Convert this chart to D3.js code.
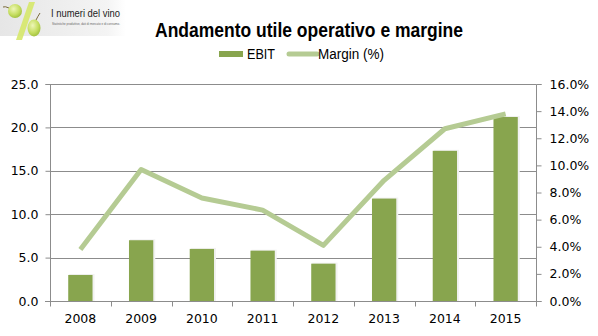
<!DOCTYPE html>
<html>
<head>
<meta charset="utf-8">
<script src="https://cdn.jsdelivr.net/npm/d3@7"></script>
<style>
  body { margin: 0; background: #fff; }
  svg { display: block; }
</style>
</head>
<body>
<div id="chart"></div>
<script>
// EBIT (milioni) and operating margin (%) by year
var years = ["2008", "2009", "2010", "2011", "2012", "2013", "2014", "2015"];
var ebit = [3.0, 7.0, 6.0, 5.8, 4.3, 11.8, 17.3, 21.2];
var margin = [3.8, 9.7, 7.6, 6.7, 4.1, 8.9, 12.7, 13.8];
var leftTicks = [0, 5, 10, 15, 20, 25];
var rightTicks = [0, 2, 4, 6, 8, 10, 12, 14, 16];

(function() {

var w = 598, h = 336;
var plotL = 50, plotR = 536, plotT = 84, plotB = 301;

var barColor = "#88a54e";
var lineColor = "#b5cb93";
var axisFont = "DejaVu Sans, Verdana, sans-serif";
var narrowFont = "Liberation Sans Narrow, Arial Narrow, Liberation Sans, Arial, sans-serif";

var svg = d3.select("#chart")
    .append("svg")
    .attr("width", w)
    .attr("height", h);

var defs = svg.append("defs");
var logoGrad = defs.append("linearGradient")
    .attr("id", "logoBg")
    .attr("x1", 0).attr("x2", 1).attr("y1", 0).attr("y2", 0);
logoGrad.append("stop").attr("offset", "0").attr("stop-color", "#e6e6e6");
logoGrad.append("stop").attr("offset", "0.85").attr("stop-color", "#f4f4f4");
logoGrad.append("stop").attr("offset", "1").attr("stop-color", "#ffffff");

var grapeGrad = defs.append("radialGradient")
    .attr("id", "grape")
    .attr("cx", "0.4").attr("cy", "0.35").attr("r", "0.7");
grapeGrad.append("stop").attr("offset", "0").attr("stop-color", "#eef6b8");
grapeGrad.append("stop").attr("offset", "0.6").attr("stop-color", "#c6de62");
grapeGrad.append("stop").attr("offset", "1").attr("stop-color", "#9dbd3a");

// logo block, top left
var logo = svg.append("g");
logo.append("rect")
    .attr("x", 0).attr("y", 0)
    .attr("width", 126).attr("height", 36)
    .attr("fill", "url(#logoBg)");
logo.append("path")
    .attr("d", "M29,2 L35,2 L22,40 L16,40 Z")
    .attr("fill", "#d6e86a")
    .attr("opacity", 0.9);
logo.append("path")
    .attr("d", "M9,8 Q5,6 3,7")
    .attr("stroke", "#7a6a3a").attr("stroke-width", 1).attr("fill", "none");
logo.append("ellipse")
    .attr("cx", 15).attr("cy", 11).attr("rx", 7).attr("ry", 7)
    .attr("fill", "url(#grape)");
logo.append("path")
    .attr("d", "M36,20 Q38,16 40,13")
    .attr("stroke", "#7a6a3a").attr("stroke-width", 1).attr("fill", "none");
logo.append("ellipse")
    .attr("cx", 34).attr("cy", 28).attr("rx", 6.5).attr("ry", 8.5)
    .attr("fill", "url(#grape)");
logo.append("text")
    .attr("x", 51).attr("y", 17)
    .attr("font-family", narrowFont)
    .attr("font-size", "11.5px")
    .attr("textLength", 69)
    .attr("lengthAdjust", "spacingAndGlyphs")
    .attr("fill", "#222")
    .text("I numeri del vino");
logo.append("text")
    .attr("x", 52).attr("y", 25)
    .attr("font-family", narrowFont)
    .attr("font-size", "3.2px")
    .attr("textLength", 68)
    .attr("lengthAdjust", "spacingAndGlyphs")
    .attr("fill", "#666")
    .text("Statistiche produttive, dati di mercato e di consumo.");

// title
svg.append("text")
    .attr("x", 155).attr("y", 37)
    .attr("font-family", narrowFont)
    .attr("font-weight", "bold")
    .attr("font-size", "20px")
    .attr("textLength", 308)
    .attr("lengthAdjust", "spacingAndGlyphs")
    .attr("fill", "#000")
    .text("Andamento utile operativo e margine");

// legend
var legend = svg.append("g")
    .attr("font-family", narrowFont)
    .attr("font-size", "14px")
    .attr("fill", "#000");
legend.append("rect")
    .attr("x", 219).attr("y", 51)
    .attr("width", 24).attr("height", 6)
    .attr("fill", barColor);
legend.append("text")
    .attr("x", 247).attr("y", 59)
    .attr("textLength", 28)
    .attr("lengthAdjust", "spacingAndGlyphs")
    .text("EBIT");
legend.append("line")
    .attr("x1", 289).attr("x2", 317)
    .attr("y1", 54).attr("y2", 54)
    .attr("stroke", lineColor)
    .attr("stroke-width", 5)
    .attr("stroke-linecap", "round");
legend.append("text")
    .attr("x", 318).attr("y", 59)
    .attr("textLength", 66)
    .attr("lengthAdjust", "spacingAndGlyphs")
    .text("Margin (%)");

// scales
var x = d3.scaleBand()
    .domain(years)
    .range([plotL, plotR])
    .paddingInner(0.6)
    .paddingOuter(0.3);
var xStep = d3.scaleBand()
    .domain(years)
    .range([plotL, plotR]);

var yLeft = d3.scaleLinear()
    .domain([0, 25])
    .range([plotB, plotT]);
var yRight = d3.scaleLinear()
    .domain([0, 16])
    .range([plotB, plotT]);

// horizontal gridlines
svg.append("g")
    .selectAll("line")
    .data(leftTicks.filter(function(d) { return d > 0; }))
    .enter()
    .append("line")
    .attr("x1", plotL)
    .attr("x2", plotR)
    .attr("y1", function(d) { return Math.round(yLeft(d)) + 0.5; })
    .attr("y2", function(d) { return Math.round(yLeft(d)) + 0.5; })
    .attr("stroke", "#8c8c8c")
    .attr("stroke-width", 1);

// bars with a faint white edge
var bars = svg.append("g");
bars.selectAll("rect.shadow")
    .data(ebit)
    .enter()
    .append("rect")
    .attr("class", "shadow")
    .attr("x", function(d, i) { return x(years[i]) + 1; })
    .attr("y", function(d) { return yLeft(d) - 1; })
    .attr("width", x.bandwidth() + 1)
    .attr("height", function(d) { return plotB - yLeft(d) + 1; })
    .attr("fill", "#f2f2f2");
bars.selectAll("rect.bar")
    .data(ebit)
    .enter()
    .append("rect")
    .attr("class", "bar")
    .attr("x", function(d, i) { return x(years[i]); })
    .attr("y", function(d) { return yLeft(d); })
    .attr("width", x.bandwidth())
    .attr("height", function(d) { return plotB - yLeft(d); })
    .attr("fill", barColor);

// axes
var lAxis = svg.append("g")
    .attr("transform", "translate(" + (plotL + 0.5) + ",0)")
    .call(d3.axisLeft(yLeft)
        .tickValues(leftTicks)
        .tickSize(5)
        .tickPadding(7)
        .tickFormat(d3.format(".1f")));

var rAxis = svg.append("g")
    .attr("transform", "translate(" + (plotR + 0.5) + ",0)")
    .call(d3.axisRight(yRight)
        .tickValues(rightTicks)
        .tickSize(5)
        .tickPadding(8)
        .tickFormat(function(d) { return d.toFixed(1) + "%"; }));

var bAxis = svg.append("g")
    .attr("transform", "translate(0," + (plotB + 0.5) + ")")
    .call(d3.axisBottom(xStep).tickSize(0).tickPadding(13));

// ticks on the category boundaries
bAxis.selectAll("line.sep")
    .data(years.concat(["end"]))
    .enter()
    .append("line")
    .attr("class", "sep")
    .attr("x1", function(d, i) { return Math.round(plotL + i * xStep.step()) + 0.5; })
    .attr("x2", function(d, i) { return Math.round(plotL + i * xStep.step()) + 0.5; })
    .attr("y1", 0)
    .attr("y2", 5)
    .attr("stroke", "#8c8c8c");

[lAxis, rAxis, bAxis].forEach(function(g) {
    g.attr("font-family", axisFont).attr("font-size", "12.5px");
    g.selectAll("path.domain").attr("stroke", "#8c8c8c");
    g.selectAll(".tick line").attr("stroke", "#8c8c8c");
    g.selectAll(".tick text").attr("fill", "#000");
});
lAxis.select("path.domain").attr("d", "M-5," + (plotT + 0.5) + "H0V" + (plotB + 0.5) + "H-5");
rAxis.select("path.domain").attr("d", "M5," + (plotT + 0.5) + "H0V" + (plotB + 0.5) + "H5");
bAxis.select("path.domain").attr("d", "M" + (plotL - 5) + ",0H" + (plotR + 5));

// margin line
var line = d3.line()
    .x(function(d, i) { return xStep(years[i]) + xStep.bandwidth() / 2; })
    .y(function(d) { return yRight(d); });

svg.append("path")
    .datum(margin)
    .attr("d", line)
    .attr("fill", "none")
    .attr("stroke", lineColor)
    .attr("stroke-width", 5)
    .attr("stroke-linejoin", "round");

})();
</script>
</body>
</html>
